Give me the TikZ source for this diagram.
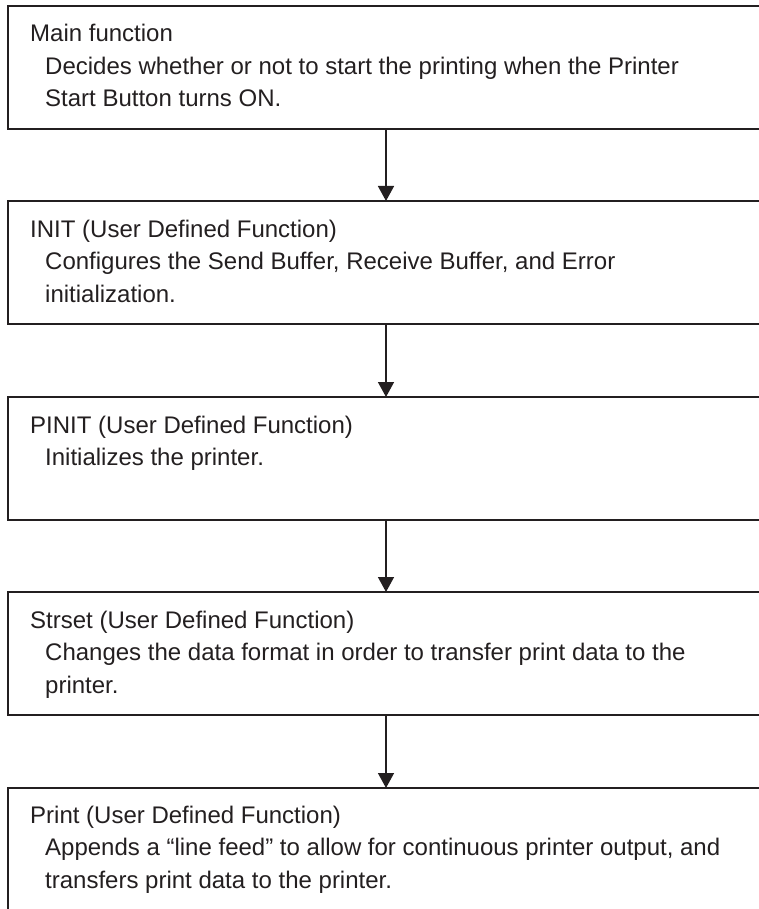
\documentclass[tikz,border=0pt]{standalone}
\usepackage{fontspec}
\setmainfont{Liberation Sans}
\usetikzlibrary{arrows.meta}
\definecolor{ink}{HTML}{231F20}
\tikzset{
  box/.style={draw=ink, line width=2pt, minimum width=770pt, minimum height=123pt,
    anchor=north west, inner sep=0pt, outer sep=0pt},
  txt/.style={anchor=base west, inner sep=0pt, text=ink, font=\fontsize{24}{28}\selectfont},
  arr/.style={draw=ink, line width=1.5pt, -{Triangle[width=16pt,length=15pt]}}
}
\begin{document}
\begin{tikzpicture}[x=1pt,y=-1pt]
\useasboundingbox (0,0) rectangle (759,909);
\clip (0,0) rectangle (759,909);
\coordinate (ax) at (386,0);
\node[box] (b1) at (8,6) {};
\node[box] (b2) at (8,201) {};
\node[box] (b3) at (8,397) {};
\node[box] (b4) at (8,592) {};
\node[box, minimum height=160pt] (b5) at (8,788) {};
% box 1
\node[txt] (t1) at (30,42) {Main function};
\node[txt] (d1a) at (45,74.5) {Decides whether or not to start the printing when the Printer};
\node[txt] (d1b) at (45,107) {Start Button turns ON.};
% box 2
\node[txt] (t2) at (30,237) {INIT (User Defined Function)};
\node[txt] (d2a) at (45,269.5) {Configures the Send Buffer, Receive Buffer, and Error};
\node[txt] (d2b) at (45,302) {initialization.};
% box 3
\node[txt] (t3) at (30,433) {PINIT (User Defined Function)};
\node[txt] (d3a) at (45,465.5) {Initializes the printer.};
% box 4
\node[txt] (t4) at (30,628) {Strset (User Defined Function)};
\node[txt] (d4a) at (45,660.5) {Changes the data format in order to transfer print data to the};
\node[txt] (d4b) at (45,693) {printer.};
% box 5
\node[txt] (t5) at (30,823) {Print (User Defined Function)};
\node[txt] (d5a) at (45,855.5) {Appends a “line feed” to allow for continuous printer output, and};
\node[txt] (d5b) at (45,888) {transfers print data to the printer.};
% arrows
\draw[arr] (b1.south -| ax) -- (b2.north -| ax);
\draw[arr] (b2.south -| ax) -- (b3.north -| ax);
\draw[arr] (b3.south -| ax) -- (b4.north -| ax);
\draw[arr] (b4.south -| ax) -- (b5.north -| ax);
\end{tikzpicture}
\end{document}
